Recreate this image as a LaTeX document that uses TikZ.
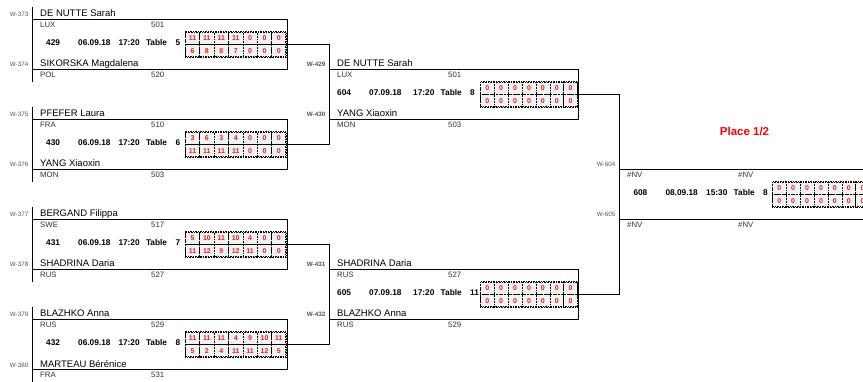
\documentclass[tikz,border=0pt]{standalone}
\usepackage{fontspec}
\setmainfont{Liberation Sans}
\usetikzlibrary{calc}
\definecolor{scorecol}{RGB}{240, 30, 30}
\definecolor{cellcol}{RGB}{242, 242, 242}
\definecolor{labelcol}{RGB}{85, 85, 85}
\definecolor{ctrycol}{RGB}{50, 50, 50}
\tikzset{
  frame/.style    = {draw=black, line width=0.9pt},
  wlbl/.style     = {anchor=base east, inner sep=0pt, text=labelcol,
                     font=\fontsize{6.3}{7}\selectfont},
  pname/.style    = {anchor=base west, inner sep=0pt,
                     font=\fontsize{9.5}{11}\selectfont},
  ctry/.style     = {anchor=base west, inner sep=0pt, text=ctrycol,
                     font=\fontsize{7.8}{9}\selectfont},
  info/.style     = {anchor=base west, inner sep=0pt,
                     font=\bfseries\fontsize{8.3}{10}\selectfont},
  % one game of a set score
  cell/.style     = {draw=black, densely dotted, line width=0.6pt,
                     fill=cellcol, inner sep=0pt, anchor=north west,
                     minimum height=12.5pt, text=scorecol,
                     font=\bfseries\fontsize{7}{8}\selectfont},
  scorebox/.style = {draw=black, line width=1pt,
                     dash pattern=on 1.5pt off 1pt},
  place/.style    = {text=red, font=\bfseries\fontsize{11.5}{13}\selectfont},
}

% frame of a match: id, left, top, right
\newcommand{\duel}[4]{%
  \coordinate (#1-tl) at (#2,#3);
  \coordinate (#1-bl) at (#2,#3+50);
  \coordinate (#1-out) at (#4,#3+25);
  \draw[frame] (#1-tl) -- (#4,#3) -- (#4,#3+50) -- (#1-bl);
}
% one player: id, left, line y, W label, name, country, number
\newcommand{\player}[7]{%
  \node[wlbl] (#1-w) at (#2-3.5,#3-2) {#4};
  \node[pname] (#1-n) at (#2+8,#3-2) {#5};
  \node[ctry] (#1-c) at (#2+8,#3+8.5) {#6};
  \node[ctry] (#1-p) at (#2+119,#3+8.5) {#7};
}
% match line: id, number x, time x, baseline, number, date, time, table
\newcommand{\info}[8]{%
  \node[info] (#1-no) at (#2,#4) {#5};
  \node[info] (#1-dt) at (#2+32,#4) {#6};
  \node[info] (#1-tm) at (#3,#4) {#7};
  \node[info] (#1-tb) at (#3+27.5,#4) {Table};
  \node[info] (#1-tn) at (#3+57,#4) {#8};
}
% set scores: id, left, top, cell width, upper row, lower row
\newcommand{\scores}[6]{%
  \foreach \s [count=\i] in {#5}
    \node[cell, minimum width=#4pt] (#1-u\i) at (#2+\i*#4-#4,#3) {\s};
  \foreach \s [count=\i] in {#6}
    \node[cell, minimum width=#4pt] (#1-d\i) at (#2+\i*#4-#4,#3+12.5) {\s};
  \draw[scorebox] (#2,#3) rectangle (#2+7*#4,#3+25);
}

\begin{document}
\begin{tikzpicture}[x=1pt, y=-1pt]
  \useasboundingbox (0,0) rectangle (863,382);
  \clip (0,0) rectangle (863,382);

  %% ---------------- first round ----------------
  \duel{a1}{32}{19}{287}
  \player{a1t}{32}{19}{W-373}{DE NUTTE Sarah}{LUX}{501}
  \player{a1b}{32}{69}{W-374}{SIKORSKA Magdalena}{POL}{520}
  \info{a1}{46}{118.3}{46}{429}{06.09.18}{17:20}{5}
  \scores{a1}{185}{32}{14.4}{11,11,11,11,0,0,0}{6,8,8,7,0,0,0}

  \duel{a2}{32}{119}{287}
  \player{a2t}{32}{119}{W-375}{PFEFER Laura}{FRA}{510}
  \player{a2b}{32}{169}{W-376}{YANG Xiaoxin}{MON}{503}
  \info{a2}{46}{118.3}{146}{430}{06.09.18}{17:20}{6}
  \scores{a2}{185}{132}{14.4}{3,6,3,4,0,0,0}{11,11,11,11,0,0,0}

  \duel{a3}{32}{219}{287}
  \player{a3t}{32}{219}{W-377}{BERGAND Filippa}{SWE}{517}
  \player{a3b}{32}{269}{W-378}{SHADRINA Daria}{RUS}{527}
  \info{a3}{46}{118.3}{246}{431}{06.09.18}{17:20}{7}
  \scores{a3}{185}{232}{14.4}{5,10,11,10,4,0,0}{11,12,9,12,11,0,0}

  \duel{a4}{32}{319}{287}
  \player{a4t}{32}{319}{W-379}{BLAZHKO Anna}{RUS}{529}
  \player{a4b}{32}{369}{W-380}{MARTEAU Bérénice}{FRA}{531}
  \info{a4}{46}{118.3}{346}{432}{06.09.18}{17:20}{8}
  \scores{a4}{185}{332}{14.4}{11,11,11,4,9,10,11}{5,2,4,11,11,12,5}

  \foreach \m in {a1,a2,a3,a4}
    \draw[frame] ($(\m-tl)+(0,-12)$) -- ($(\m-bl)+(0,13)$);

  %% ---------------- second round ----------------
  \duel{b1}{329}{69}{578}
  \player{b1t}{329}{69}{\bfseries W-429}{DE NUTTE Sarah}{LUX}{501}
  \player{b1b}{329}{119}{\bfseries W-430}{YANG Xiaoxin}{MON}{503}
  \info{b1}{337}{413}{96}{604}{07.09.18}{17:20}{8}
  \scores{b1}{480}{82}{13.9}{0,0,0,0,0,0,0}{0,0,0,0,0,0,0}

  \duel{b2}{329}{269}{578}
  \player{b2t}{329}{269}{\bfseries W-431}{SHADRINA Daria}{RUS}{527}
  \player{b2b}{329}{319}{\bfseries W-432}{BLAZHKO Anna}{RUS}{529}
  \info{b2}{337}{413}{296}{605}{07.09.18}{17:20}{11}
  \scores{b2}{480}{282}{13.9}{0,0,0,0,0,0,0}{0,0,0,0,0,0,0}

  \draw[frame] (a1-out) -- (a1-out -| b1-tl) -- (a2-out -| b1-tl) -- (a2-out);
  \draw[frame] (a3-out) -- (a3-out -| b2-tl) -- (a4-out -| b2-tl) -- (a4-out);

  %% ---------------- final ----------------
  \duel{c1}{619}{169}{900}
  \player{c1t}{619}{169}{W-604}{}{\#NV}{\#NV}
  \player{c1b}{619}{219}{W-605}{}{\#NV}{\#NV}
  \info{c1}{633.3}{706}{196}{608}{08.09.18}{15:30}{8}
  \scores{c1}{772}{182}{13.9}{0,0,0,0,0,0,0}{0,0,0,0,0,0,0}

  \draw[frame] (b1-out) -- (b1-out -| c1-tl) -- (b2-out -| c1-tl) -- (b2-out);

  \node[place] (place) at (744.5,131.5) {Place 1/2};

\end{tikzpicture}
\end{document}
